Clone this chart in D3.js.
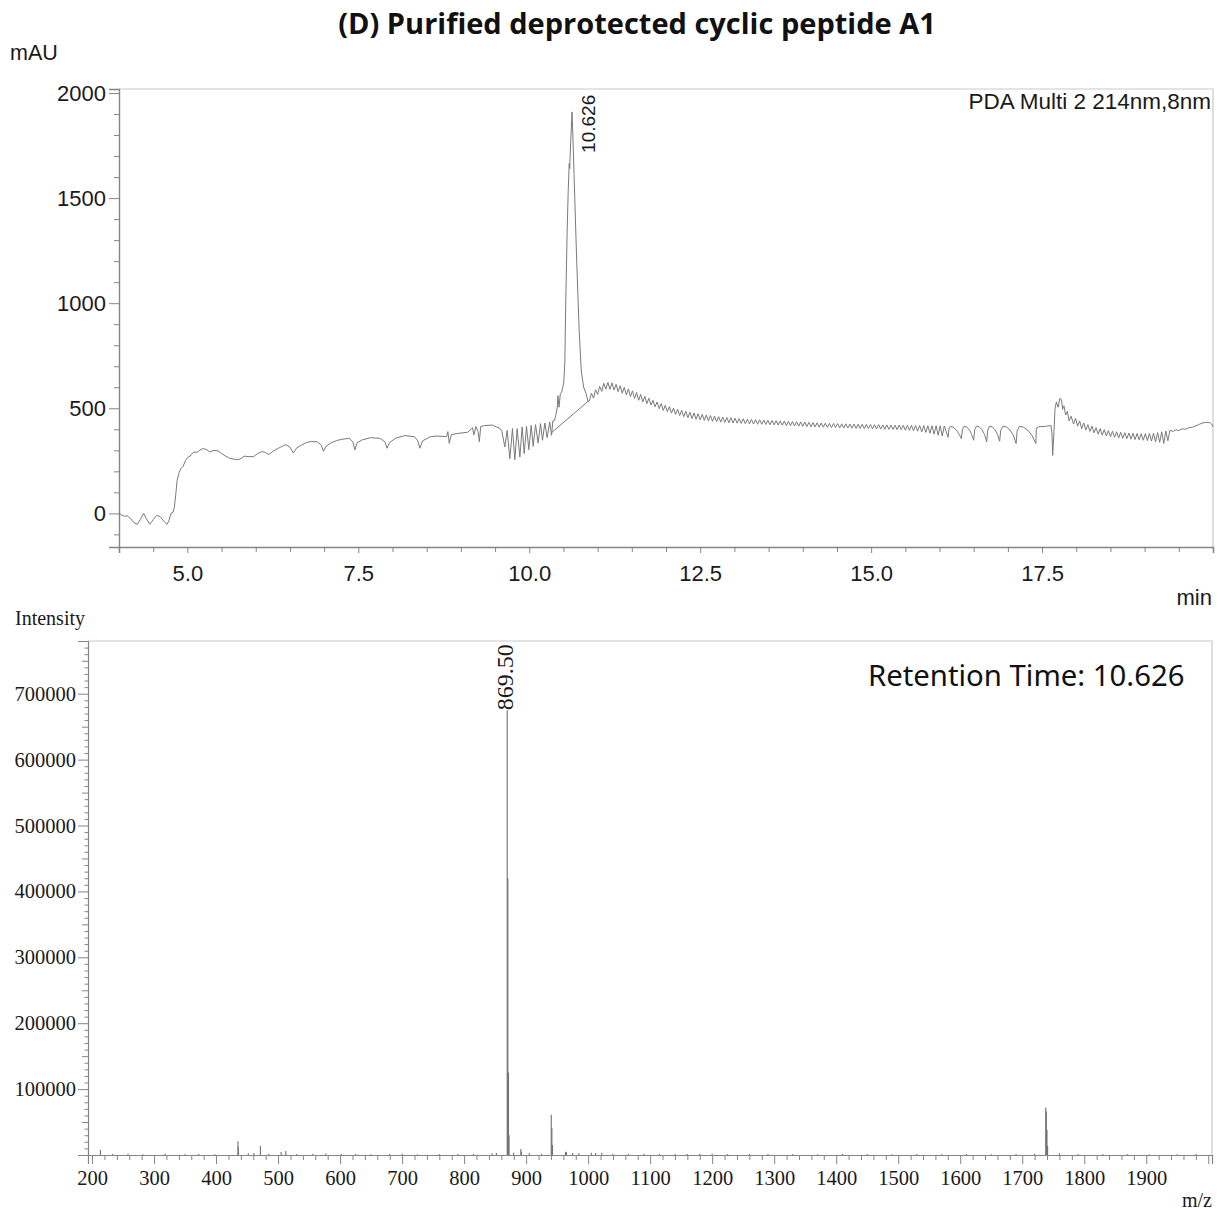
<!DOCTYPE html>
<html>
<head>
<meta charset="utf-8">
<script src="https://cdn.jsdelivr.net/npm/d3@7"></script>
<style>
  body { margin: 0; background: #fff; }
  svg { display: block; }
</style>
</head>
<body>
<svg id="fig" width="1223" height="1211"></svg>
<script>
// ---------- LC trace (PDA 214 nm), [minutes, mAU] ----------
const lcInjection = [
  [4.00, 0], [4.04, -8], [4.08, -14], [4.12, -12], [4.17, -25], [4.22, -45], [4.27, -52], [4.31, -30],
  [4.36, 0], [4.40, -25], [4.45, -52], [4.50, -30], [4.55, -10], [4.60, -15], [4.65, -35], [4.70, -52],
  [4.73, -35], [4.76, 0], [4.79, 5], [4.81, 30], [4.83, 90], [4.85, 157], [4.88, 195], [4.91, 215],
  [4.94, 225], [4.97, 250], [5.00, 265], [5.04, 272], [5.07, 285], [5.10, 292], [5.14, 290], [5.18, 300],
  [5.22, 308], [5.27, 305], [5.33, 292], [5.39, 300], [5.45, 297], [5.50, 285], [5.56, 272], [5.62, 262],
  [5.68, 258], [5.74, 255], [5.79, 262], [5.83, 272], [5.90, 270], [5.97, 270], [6.03, 285], [6.09, 294],
  [6.14, 290], [6.19, 280], [6.25, 295], [6.32, 308], [6.38, 318], [6.44, 327], [6.50, 315], [6.55, 287],
  [6.60, 312], [6.67, 325], [6.74, 337], [6.81, 342], [6.90, 340], [6.96, 325], [6.99, 295], [7.03, 320],
  [7.10, 335], [7.18, 346], [7.25, 352], [7.37, 357], [7.42, 340], [7.45, 302], [7.48, 335], [7.56, 350],
  [7.68, 360], [7.82, 357], [7.89, 340], [7.92, 310], [7.96, 338], [8.05, 358], [8.18, 370], [8.32, 365],
  [8.37, 345], [8.40, 310], [8.44, 345], [8.55, 364], [8.65, 368], [8.79, 365], [8.81, 389], [8.83, 333],
  [8.86, 375], [8.95, 380], [9.10, 386], [9.15, 400], [9.17, 408], [9.19, 373], [9.22, 413], [9.25, 390],
  [9.27, 341], [9.29, 413], [9.35, 418], [9.46, 420], [9.52, 411], [9.57, 405], [9.60, 390]
];

const lcPulsation = [
  [9.643, 316], [9.677, 395], [9.716, 260], [9.755, 403], [9.789, 255], [9.823, 403], [9.863, 268],
  [9.896, 411], [9.926, 284], [9.96, 414], [9.994, 303], [10.028, 419], [10.057, 319], [10.092, 422],
  [10.13, 335], [10.165, 427], [10.194, 348], [10.228, 430], [10.262, 360], [10.30, 435], [10.326, 371],
  [10.345, 440]
];

const lcMainPeak = [
  [10.37, 443], [10.39, 470], [10.41, 506], [10.42, 560], [10.435, 505], [10.455, 570], [10.475, 578],
  [10.49, 600], [10.505, 625], [10.52, 714], [10.535, 1030], [10.555, 1348], [10.57, 1538], [10.585, 1665],
  [10.592, 1640], [10.605, 1760], [10.626, 1910], [10.64, 1776], [10.665, 1506], [10.695, 1190],
  [10.73, 871], [10.76, 681], [10.795, 601], [10.83, 571], [10.86, 532]
];

// gradient tail sampled every 0.03 min from 10.88 min
const tailStart = 10.88, tailStep = 0.03;
const tailValues = [
  535, 572, 548, 588, 566, 604, 580, 619, 591, 623, 590, 621, 587, 614, 579, 607, 572, 600, 564, 592,
  556, 583, 547, 575, 538, 566, 530, 557, 522, 548, 515, 538, 507, 530, 498, 522, 490, 514, 484, 508,
  477, 501, 471, 495, 465, 490, 460, 486, 455, 481, 451, 477, 448, 474, 445, 471, 442, 468, 440, 465,
  438, 463, 436, 460, 434, 458, 433, 456, 431, 455, 430, 453, 429, 451, 428, 450, 427, 448, 426, 447,
  425, 446, 424, 445, 424, 444, 423, 443, 422, 442, 421, 441, 420, 440, 419, 439, 418, 438, 417, 437,
  416, 436, 415, 435, 414, 434, 413, 433, 412, 432, 411, 431, 410, 430, 410, 429, 409, 428, 408, 428,
  408, 427, 407, 426, 406, 426, 406, 425, 405, 425, 404, 424, 404, 424, 403, 423, 403, 423, 402, 422,
  402, 422, 401, 421, 400, 421, 400, 420, 399, 420, 398, 420, 398, 419, 396, 419, 395, 419, 393, 418,
  391, 418, 388, 418, 385, 417, 381, 417, 377, 417, 372, 416, 368, 416
];

const lcScallops = [
  [16.125, 362], [16.14, 405], [16.16, 414], [16.20, 410], [16.25, 395], [16.29, 375], [16.32, 356],
  [16.335, 400], [16.36, 414], [16.40, 411], [16.44, 396], [16.47, 375], [16.50, 348],
  [16.515, 398], [16.54, 415], [16.58, 412], [16.62, 398], [16.66, 375], [16.69, 340],
  [16.705, 395], [16.73, 414], [16.77, 412], [16.81, 398], [16.85, 375], [16.88, 343],
  [16.895, 395], [16.93, 415], [16.98, 411], [17.03, 397], [17.08, 372], [17.12, 332],
  [17.135, 392], [17.17, 414], [17.23, 410], [17.29, 396], [17.35, 372], [17.41, 332]
];

const lcDisturbance = [
  [17.415, 405], [17.45, 412], [17.55, 414], [17.63, 418], [17.645, 380], [17.655, 276], [17.67, 360],
  [17.69, 500], [17.71, 530], [17.735, 505], [17.76, 547], [17.785, 540], [17.80, 495], [17.82, 512],
  [17.845, 468], [17.87, 485], [17.895, 440], [17.925, 462]
];

// re-equilibration ripple sampled every 0.03 min from 17.96 min
const washStart = 17.96, washStep = 0.03;
const washValues = [
  425, 452, 415, 440, 403, 430, 397, 422, 390, 415, 383, 408, 377, 403, 372, 398, 368, 394, 365, 391,
  362, 388, 359, 386, 357, 384, 355, 382, 353, 381, 351, 380, 350, 379, 348, 379, 346, 380, 344, 381,
  341, 384, 338, 388, 333, 392, 345, 395
];

const lcEnd = [
  [19.42, 390], [19.46, 398], [19.50, 394], [19.55, 402], [19.60, 400], [19.65, 408], [19.70, 410],
  [19.75, 416], [19.80, 424], [19.85, 430], [19.90, 433], [19.95, 432], [19.98, 425], [20.00, 412]
];

// integration baseline under the main peak
const peakBaseline = [[10.33, 385], [10.86, 533]];

const lcYTicks = [0, 500, 1000, 1500, 2000];
const lcXTicks = [5.0, 7.5, 10.0, 12.5, 15.0, 17.5];

// ---------- MS spectrum, [m/z, intensity] ----------
const msMainIon = [[869.5, 675000], [870.5, 420000], [871.5, 125000], [872.5, 30000]];
const msOtherIons = [
  [213.5, 7500], [435.3, 21000], [435.8, 12000], [461, 3000], [471.5, 13500], [505, 4500], [512.5, 6000],
  [891.5, 9000], [892.5, 5000], [940.5, 61000], [941.5, 41000], [942.5, 15000], [963.5, 5000], [965, 4000],
  [1737.9, 72000], [1738.9, 66000], [1739.9, 38000], [1740.9, 14000]
];
const msNoise = [
  [233, 1500], [258, 2000], [282, 1200], [318, 1800], [350, 1300], [372, 1500], [398, 1200], [452, 2500],
  [485, 2000], [530, 1500], [556, 1800], [577, 2200], [602, 1400], [625, 1600], [650, 1200], [680, 1500],
  [700, 1800], [725, 1300], [760, 1500], [790, 1700], [815, 1400], [845, 2500], [852, 3000], [880, 3500],
  [905, 2500], [925, 2000], [975, 3000], [985, 2500], [1005, 3500], [1012, 3000], [1022, 3500], [1040, 2000],
  [1065, 1800], [1090, 2000], [1115, 1500], [1140, 1600], [1160, 1400], [1180, 1800], [1200, 2000],
  [1225, 1500], [1260, 1400], [1290, 1600], [1330, 1500], [1370, 1300], [1410, 1500], [1450, 1400],
  [1490, 1200], [1530, 1500], [1570, 1300], [1610, 1400], [1650, 1200], [1690, 1500], [1720, 2000],
  [1760, 2500], [1790, 1500], [1830, 1400], [1870, 1600], [1905, 1300], [1950, 1200], [1980, 1400]
];
const msYTicks = [100000, 200000, 300000, 400000, 500000, 600000, 700000];
const msXTicks = d3.range(200, 2001, 100);

// ---------- drawing ----------
const svg = d3.select("#fig");
const sans = "'Liberation Sans', Arial, sans-serif";
const serif = "'Liberation Serif', 'Times New Roman', serif";
const axisGrey = "#858585";
const frameGrey = "#c9c9c9";
const inkGrey = "#7a7a7a";

svg.append("text")
  .attr("x", 637).attr("y", 34)
  .attr("text-anchor", "middle")
  .style("font-family", "'Open Sans', 'Noto Sans', sans-serif")
  .style("font-weight", 700).style("font-size", "29px").style("fill", "#111")
  .text("(D) Purified deprotected cyclic peptide A1");

// ===== chromatogram =====
const lc = { left: 119, right: 1213, top: 89, bottom: 547 };
const xLC = d3.scaleLinear().domain([4, 20]).range([lc.left, lc.right]);
const yLC = d3.scaleLinear().domain([-160, 2019]).range([lc.bottom, lc.top]);

const lcSeries = [].concat(
  lcInjection, lcPulsation, lcMainPeak,
  tailValues.map((v, i) => [tailStart + i * tailStep, v]),
  lcScallops, lcDisturbance,
  washValues.map((v, i) => [washStart + i * washStep, v]),
  lcEnd
);

const gLC = svg.append("g");
gLC.append("path")
  .attr("d", `M${lc.left},${lc.top}H${lc.right}V${lc.bottom}`)
  .attr("fill", "none").attr("stroke", frameGrey).attr("stroke-width", 1.2);

function styleAxis(g, font, size, domainW) {
  g.select(".domain").attr("stroke", axisGrey).attr("stroke-width", domainW);
  g.selectAll(".tick line").attr("stroke", axisGrey).attr("stroke-width", 1);
  g.selectAll(".tick text").style("font-family", font).style("font-size", size).style("fill", "#1a1a1a");
}

// minor ticks first so the major ones sit on top
const lcYMinor = d3.range(-100, 2001, 100).filter(v => v % 500 !== 0);
gLC.append("g").attr("transform", `translate(${lc.left},0)`)
  .call(d3.axisLeft(yLC).tickValues(lcYMinor).tickSize(5).tickFormat(""))
  .call(g => { g.select(".domain").remove(); g.selectAll("line").attr("stroke", axisGrey); });
gLC.append("g").attr("transform", `translate(${lc.left},0)`)
  .call(d3.axisLeft(yLC).tickValues(lcYTicks).tickSize(10).tickPadding(3).tickFormat(d3.format("d")))
  .call(g => styleAxis(g, sans, "22px", 1.4));

const lcXMinor = d3.range(4.5, 20, 0.5).filter(v => !lcXTicks.includes(v));
gLC.append("g").attr("transform", `translate(0,${lc.bottom})`)
  .call(d3.axisBottom(xLC).tickValues(lcXMinor).tickSize(5).tickFormat(""))
  .call(g => { g.select(".domain").remove(); g.selectAll("line").attr("stroke", axisGrey); });
gLC.append("g").attr("transform", `translate(0,${lc.bottom})`)
  .call(d3.axisBottom(xLC).tickValues(lcXTicks).tickSize(6).tickPadding(12).tickFormat(d3.format(".1f")))
  .call(g => styleAxis(g, sans, "22px", 1.6));

const lcLine = d3.line().x(d => xLC(d[0])).y(d => yLC(d[1]));
gLC.append("path").datum(peakBaseline)
  .attr("d", lcLine).attr("fill", "none").attr("stroke", inkGrey).attr("stroke-width", 1);
gLC.append("path").datum(lcSeries)
  .attr("d", lcLine).attr("fill", "none").attr("stroke", inkGrey)
  .attr("stroke-width", 1).attr("stroke-linejoin", "round");

const apex = lcMainPeak.reduce((a, b) => (b[1] > a[1] ? b : a));
gLC.append("text")
  .attr("transform", `translate(${xLC(apex[0]) + 18},${yLC(apex[1]) + 41}) rotate(-90)`)
  .attr("dominant-baseline", "middle")
  .style("font-family", sans).style("font-size", "19px").style("fill", "#1a1a1a")
  .text(apex[0].toFixed(3));

gLC.append("text").attr("x", 10).attr("y", 60)
  .style("font-family", sans).style("font-size", "21.5px").style("fill", "#1a1a1a").text("mAU");
gLC.append("text").attr("x", 1212).attr("y", 605).attr("text-anchor", "end")
  .style("font-family", sans).style("font-size", "22px").style("fill", "#1a1a1a").text("min");
gLC.append("text").attr("x", 1211).attr("y", 109).attr("text-anchor", "end")
  .style("font-family", sans).style("font-size", "22.5px").style("fill", "#1a1a1a")
  .text("PDA Multi 2 214nm,8nm");

// ===== mass spectrum =====
const ms = { left: 88, right: 1212, top: 641, bottom: 1155 };
const xMS = d3.scaleLinear().domain([193.5, 2006]).range([ms.left, ms.right]);
const yMS = d3.scaleLinear().domain([0, 780000]).range([ms.bottom, ms.top]);

const gMS = svg.append("g");
gMS.append("path")
  .attr("d", `M${ms.left},${ms.top}H${ms.right}V${ms.bottom}`)
  .attr("fill", "none").attr("stroke", frameGrey).attr("stroke-width", 1.2);

const msYMinor = d3.range(0, 780001, 10000).filter(v => v % 50000 !== 0);
const msYMid = d3.range(50000, 780001, 100000);
gMS.append("g").attr("transform", `translate(${ms.left},0)`)
  .call(d3.axisLeft(yMS).tickValues(msYMinor).tickSize(3.5).tickFormat(""))
  .call(g => { g.select(".domain").remove(); g.selectAll("line").attr("stroke", axisGrey); });
gMS.append("g").attr("transform", `translate(${ms.left},0)`)
  .call(d3.axisLeft(yMS).tickValues(msYMid).tickSize(6).tickFormat(""))
  .call(g => { g.select(".domain").remove(); g.selectAll("line").attr("stroke", axisGrey); });
gMS.append("g").attr("transform", `translate(${ms.left},0)`)
  .call(d3.axisLeft(yMS).tickValues(msYTicks).tickSize(10).tickPadding(2).tickFormat(d3.format("d")))
  .call(g => styleAxis(g, serif, "20.5px", 1.2));

const msXMinor = d3.range(200, 2001, 20).filter(v => v % 100 !== 0);
gMS.append("g").attr("transform", `translate(0,${ms.bottom})`)
  .call(d3.axisBottom(xMS).tickValues(msXMinor).tickSize(5).tickFormat(""))
  .call(g => { g.select(".domain").remove(); g.selectAll("line").attr("stroke", axisGrey); });
gMS.append("g").attr("transform", `translate(0,${ms.bottom})`)
  .call(d3.axisBottom(xMS).tickValues(msXTicks).tickSize(9).tickPadding(6)
    .tickFormat(d => (d < 2000 ? d : "")))
  .call(g => styleAxis(g, serif, "20.5px", 1.2));

const sticks = [].concat(msNoise, msOtherIons, msMainIon);
gMS.append("g").selectAll("line").data(sticks).join("line")
  .attr("x1", d => xMS(d[0])).attr("x2", d => xMS(d[0]))
  .attr("y1", yMS(0)).attr("y2", d => yMS(d[1]))
  .attr("stroke", "#707070").attr("stroke-width", 1.1);

const basePeak = msMainIon.reduce((a, b) => (b[1] > a[1] ? b : a));
gMS.append("text")
  .attr("transform", `translate(${xMS(basePeak[0])},${yMS(basePeak[1])}) rotate(-90)`)
  .attr("dominant-baseline", "middle")
  .style("font-family", serif).style("font-size", "24px").style("fill", "#1a1a1a")
  .text(basePeak[0].toFixed(2));

gMS.append("text").attr("x", 15).attr("y", 625)
  .style("font-family", serif).style("font-size", "20px").style("fill", "#1a1a1a").text("Intensity");
gMS.append("text").attr("x", 1212).attr("y", 1207).attr("text-anchor", "end")
  .style("font-family", serif).style("font-size", "20px").style("fill", "#1a1a1a").text("m/z");
gMS.append("text").attr("x", 868).attr("y", 686)
  .style("font-family", "'Noto Sans', 'Open Sans', sans-serif").style("font-size", "29.3px").style("fill", "#111")
  .text("Retention Time: " + apex[0].toFixed(3));
</script>
</body>
</html>
